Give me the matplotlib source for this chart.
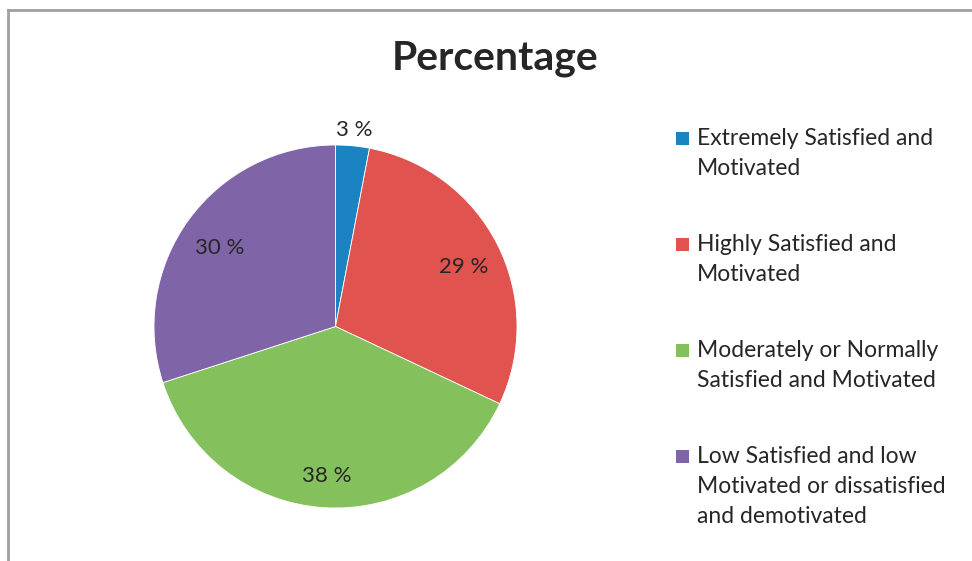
import matplotlib
matplotlib.use("Agg")
import numpy as np
import matplotlib.pyplot as plt
from matplotlib.patches import Rectangle
from matplotlib.lines import Line2D
from matplotlib.transforms import offset_copy

categories = [
    "Extremely Satisfied and\nMotivated",
    "Highly Satisfied and\nMotivated",
    "Moderately or Normally\nSatisfied and Motivated",
    "Low Satisfied and low\nMotivated or dissatisfied\nand demotivated",
]
percentages = [3, 29, 38, 30]
colors = ["#1b83c2", "#e0534f", "#84c05c", "#8064a8"]

W, H = 972, 561
text_color = "#262626"
plt.rcParams["font.family"] = ["Lato", "DejaVu Sans"]

fig = plt.figure(figsize=(W / 100, H / 100), dpi=100)
fig.patch.set_facecolor("white")


def fx(px):
    return px / W


def fy(py):
    return 1 - py / H


# chart border (top and left edges only are visible)
fig.add_artist(Line2D([fx(7.5), fx(7.5)], [fy(9.5), fy(H + 5)], color="#a0a0a0", lw=2,
                      transform=fig.transFigure))
fig.add_artist(Line2D([fx(7.5), fx(971)], [fy(9.5), fy(9.5)], color="#a0a0a0", lw=2,
                      transform=fig.transFigure))

# pie centre and radius in pixels
cx, cy, r = 335.5, 326.5, 181.5
ax = fig.add_axes([fx(cx - r), fy(cy + r), 2 * r / W, 2 * r / H])

wedges, _, autotexts = ax.pie(
    percentages,
    colors=colors,
    startangle=90,
    counterclock=False,
    autopct=lambda p: f"{p:.0f} %",
    pctdistance=0.79,
    wedgeprops=dict(edgecolor="white", linewidth=0.6),
    textprops=dict(color=text_color, fontsize=16),
)
ax.set_xlim(-1, 1)
ax.set_ylim(-1, 1)

shifted = offset_copy(ax.transData, fig=fig, y=-4, units="dots")
for t in autotexts[1:]:
    t.set_verticalalignment("center_baseline")
    t.set_transform(shifted)

# the smallest slice gets its label just outside the rim
w = wedges[0]
mid = np.deg2rad((w.theta1 + w.theta2) / 2)
autotexts[0].set_verticalalignment("center_baseline")
autotexts[0].set_position((1.1 * np.cos(mid), 1.1 * np.sin(mid)))

fig.text(fx(495), fy(69.3), "Percentage", ha="center", va="baseline",
         fontsize=29.5, fontweight="bold", color=text_color)

# legend, drawn line by line
for i, (label, col) in enumerate(zip(categories, colors)):
    base = 144.7 + 106 * i
    fig.add_artist(Rectangle((fx(676), fy(base)), 13 / W, 13 / H, facecolor=col,
                             edgecolor="none", transform=fig.transFigure))
    for j, line in enumerate(label.split("\n")):
        fig.text(fx(697), fy(base + 30 * j), line, ha="left", va="baseline",
                 fontsize=16.5, color=text_color)

fig.savefig("out.png", dpi=100)
